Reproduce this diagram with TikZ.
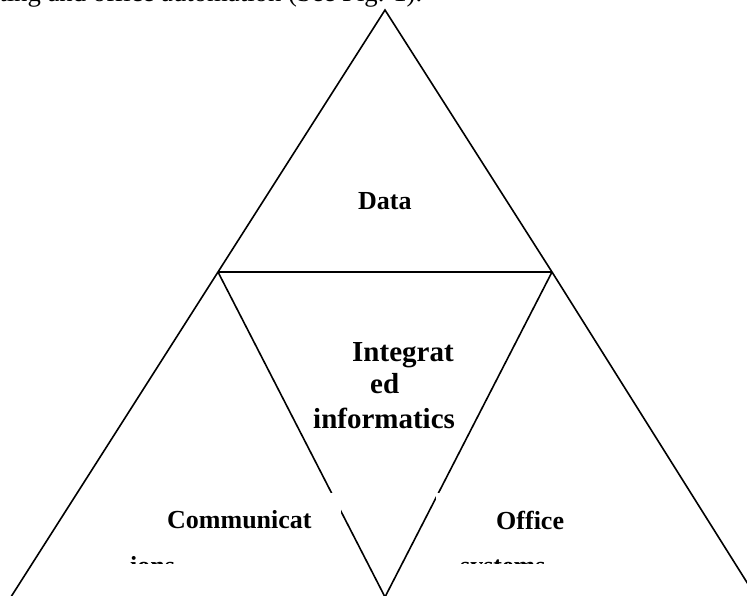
\documentclass[tikz,border=0pt]{standalone}
\usepackage{fontspec}
\setmainfont{Liberation Serif}
\begin{document}
\begin{tikzpicture}[x=1pt,y=-1pt,
  edge/.style={line width=1.6pt, draw=black, line join=miter},
  lbl/.style={inner sep=0pt, anchor=base west, font=\bfseries\fontsize{26}{30}\selectfont},
  biglbl/.style={inner sep=0pt, anchor=base west, font=\bfseries\fontsize{29}{33}\selectfont},
  bodytxt/.style={inner sep=0pt, anchor=base west, font=\fontsize{26.7}{30}\selectfont},
  mask/.style={fill=white, draw=none}]
\useasboundingbox (0,0) rectangle (747,595);
\clip (0,0) rectangle (747,595);
% vertices
\coordinate (apex) at (385,10);
\coordinate (L) at (218,272);
\coordinate (R) at (552,272);
\coordinate (BL) at (9,600);
\coordinate (BR) at (758,600);
\coordinate (V) at (385,597);
% clipped running text above the figure
\node[bodytxt] (intro) at (-75,1) {integrating and office automation (See Fig. 1).};
% triangles
\draw[edge] (BL) -- (L) -- (apex) -- (R) -- (BR);
\draw[edge] (L) -- (R);
\draw[edge] (L) -- (V) -- (R);
% white text frames
\fill[mask] (120,493) rectangle (341,563);
\fill[mask] (436,493) rectangle (610,563);
% labels
\node[lbl] (data) at (358,209) {Data};
\node[biglbl] (int1) at (352,361) {Integrat};
\node[biglbl] (int2) at (370,393) {ed};
\node[biglbl] (int3) at (313,428) {informatics};
\node[lbl] (comm1) at (167,528) {Communicat};
\node[lbl] (off1) at (496,529) {Office};
\begin{scope}
  \clip (0,0) rectangle (747,563);
  \node[lbl] (comm2) at (130,574) {ions};
  \node[lbl] (off2) at (460,574) {systems};
\end{scope}
\end{tikzpicture}
\end{document}
